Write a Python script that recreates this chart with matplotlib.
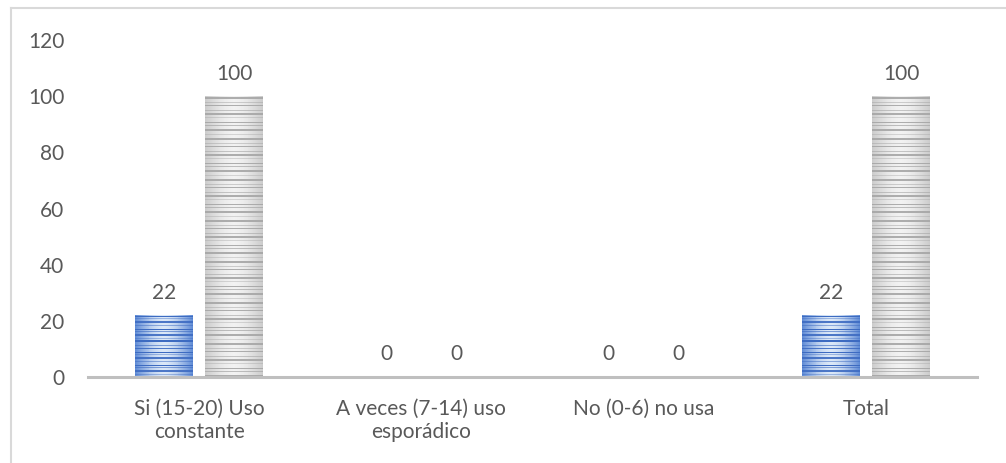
import numpy as np
import matplotlib.pyplot as plt
from matplotlib.lines import Line2D

categories = ['Si (15-20) Uso\nconstante', 'A veces (7-14) uso\nesporádico',
              'No (0-6) no usa', 'Total']
frecuencia = [22, 0, 0, 22]
porcentaje = [100, 0, 0, 100]

plt.rcParams['font.family'] = ['Lato', 'DejaVu Sans']
TXT = '#595959'
FS = 15

fig = plt.figure(figsize=(10.06, 4.63), dpi=100)
ax = fig.add_axes([88 / 1006, 1 - 377 / 463, 889 / 1006, 337 / 463])

# thin frame around the chart area
fig.add_artist(Line2D([11 / 1006, 11 / 1006], [0, 1 - 8 / 463], transform=fig.transFigure,
                      color='#d9d9d9', lw=1.5))
fig.add_artist(Line2D([11 / 1006, 1], [1 - 8 / 463, 1 - 8 / 463], transform=fig.transFigure,
                      color='#d9d9d9', lw=1.5))

x = np.arange(len(categories))
w = 0.26
off = 0.158


def stripe_texture(rows, dark, mid, light, pattern):
    # horizontal gradient (darker edges, light center) with horizontal stripes
    cols = 60
    t = np.linspace(-1, 1, cols)
    g = np.abs(t) ** 1.6
    base = light[None, :] * (1 - g[:, None]) + mid[None, :] * g[:, None]
    p = np.resize(np.array(pattern, dtype=float), rows)
    img = base[None, :, :] * (1 - p[:, None, None]) + dark[None, None, :] * p[:, None, None]
    return np.clip(img, 0, 1)


blue_pat = [0, 1, 0, 0.4, 0, 0, 0.9, 0.9, 0, 0, 0.5, 0, 0, 0, 1, 0, 0.6, 0, 0,
            0.9, 0.9, 0, 0, 0.4, 0, 1, 1, 0, 0, 0, 0.6, 0, 0, 0.9, 0, 0]
gray_pat = [0, 0.9, 0.9, 0, 0, 0, 0.5, 0, 0, 0.9, 0, 0, 0, 0, 0.6, 0, 0, 0.9, 0.9, 0,
            0, 0.4, 0, 0, 0, 0, 0.9, 0, 0, 0.7, 0, 0, 0, 0.9, 0.9, 0, 0, 0, 0.4, 0, 0]

px_per_unit = 337 / 120


def textured_bars(xs, vals, dark, mid, light, pattern):
    bars = ax.bar(xs, vals, w, facecolor='none', edgecolor='none', zorder=2)
    for b, v in zip(bars, vals):
        if v <= 0:
            continue
        rows = max(int(round(v * px_per_unit)), 2)
        img = stripe_texture(rows, np.array(dark), np.array(mid), np.array(light), pattern)
        im = ax.imshow(img, extent=[b.get_x(), b.get_x() + b.get_width(), 0, v],
                       aspect='auto', origin='upper', interpolation='nearest', zorder=2)
        im.set_clip_path(b)
    for xi, v in zip(xs, vals):
        ax.annotate(str(v), (xi, v), xytext=(0, 9), textcoords='offset points',
                    ha='center', va='bottom', fontsize=FS, color=TXT)


textured_bars(x - off, frecuencia, (0.24, 0.42, 0.76), (0.38, 0.55, 0.84), (0.86, 0.91, 0.97), blue_pat)
textured_bars(x + off, porcentaje, (0.65, 0.65, 0.65), (0.80, 0.80, 0.80), (0.95, 0.95, 0.95), gray_pat)

ax.set_xlim(-0.5, 3.5)
ax.set_ylim(0, 120)
ax.set_yticks(range(0, 121, 20))
ax.set_xticks(x)
ax.set_xticklabels(categories, linespacing=1.2)
ax.tick_params(axis='both', length=0, labelsize=FS, labelcolor=TXT)
ax.tick_params(axis='y', pad=17)
ax.tick_params(axis='x', pad=16)
for s in ['top', 'right', 'left']:
    ax.spines[s].set_visible(False)
ax.spines['bottom'].set_color('#bfbfbf')
ax.spines['bottom'].set_linewidth(2.2)
ax.spines['bottom'].set_zorder(3)

fig.savefig('out.png', dpi=100)
